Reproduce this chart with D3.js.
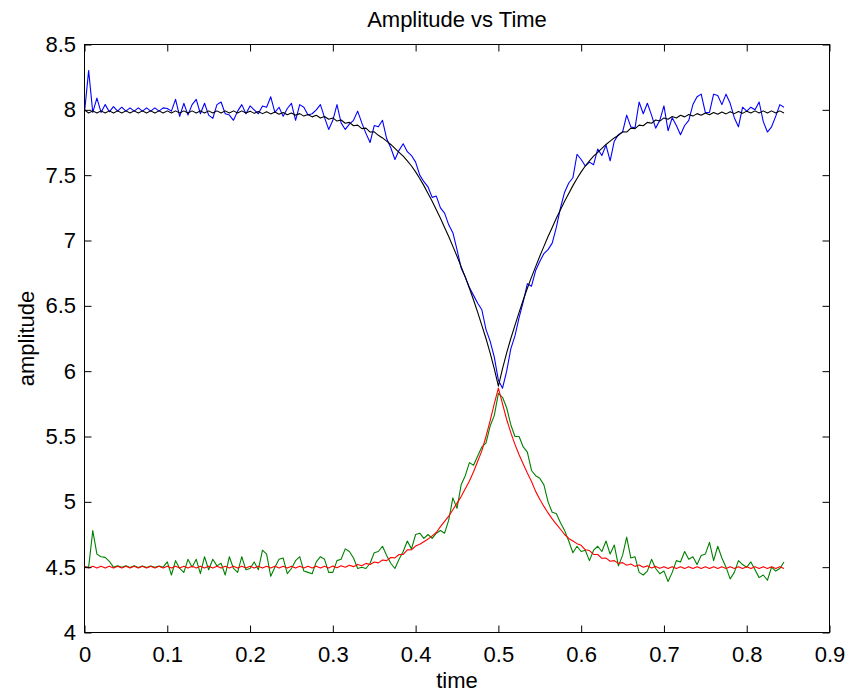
<!DOCTYPE html>
<html><head><meta charset="utf-8">
<script src="https://cdn.jsdelivr.net/npm/d3@7"></script>
<style>
body{margin:0;background:#fff}
svg{display:block}
text{font-family:"Liberation Sans",Arial,Helvetica,sans-serif;fill:#000}
</style>
</head><body>
<svg id="chart" width="851" height="694"></svg>
<script>
const chartTitle = "Amplitude vs Time";
const xLabel = "time";
const yLabel = "amplitude";
const xTicks = [0, 0.1, 0.2, 0.3, 0.4, 0.5, 0.6, 0.7, 0.8, 0.9];
const yTicks = [4, 4.5, 5, 5.5, 6, 6.5, 7, 7.5, 8, 8.5];
// sample times: uniform grid starting at 0 with step 0.005
const tStart = 0, tStep = 0.005;

const blueSeries = [
7.98,8.30,7.98,8.09,7.98,8.04,7.985,8.025,7.99,8.02,
7.99,8.015,7.99,8.015,7.99,8.015,7.99,8.015,7.99,8.015,
8.01,7.99,8.08,7.95,8.05,7.96,8.04,8.08,7.97,8.05,
7.96,7.935,8.04,8.06,7.97,7.96,7.92,7.99,8.04,7.97,
8.03,8.00,7.97,8.03,8.02,8.10,7.98,8.02,7.95,8.01,
8.05,7.92,8.04,8.02,7.96,7.97,8.00,8.04,7.94,7.85,
7.92,8.04,7.90,7.85,7.89,7.92,7.99,7.90,7.82,7.75,
7.88,7.87,7.92,7.78,7.71,7.62,7.69,7.74,7.68,7.65,
7.60,7.50,7.45,7.41,7.33,7.34,7.25,7.21,7.12,7.06,
6.93,6.79,6.72,6.64,6.58,6.52,6.47,6.32,6.23,6.11,
5.93,5.87,6.00,6.17,6.27,6.41,6.53,6.67,6.65,6.77,
6.84,6.90,6.93,6.98,7.10,7.25,7.37,7.44,7.48,7.66,
7.62,7.57,7.60,7.58,7.70,7.65,7.73,7.61,7.76,7.81,
7.83,7.96,7.87,7.86,8.06,7.97,8.05,7.96,7.86,7.92,
8.03,7.84,7.94,7.88,7.81,7.88,7.92,8.04,8.10,8.12,
7.98,7.98,8.12,8.11,8.04,8.12,8.05,7.94,7.87,8.02,
7.99,8.02,8.00,8.06,7.91,7.83,7.87,7.95,8.04,8.02
];

const greenSeries = [
4.50,4.50,4.78,4.60,4.58,4.575,4.545,4.50,4.51,4.50,
4.51,4.497,4.51,4.497,4.508,4.497,4.508,4.50,4.508,4.50,
4.54,4.44,4.55,4.49,4.46,4.56,4.50,4.56,4.45,4.58,
4.48,4.56,4.51,4.53,4.44,4.58,4.49,4.46,4.58,4.48,
4.49,4.54,4.48,4.63,4.60,4.43,4.50,4.56,4.57,4.45,
4.49,4.55,4.58,4.47,4.46,4.45,4.54,4.58,4.56,4.46,
4.46,4.55,4.56,4.64,4.62,4.57,4.49,4.50,4.49,4.53,
4.61,4.62,4.66,4.59,4.53,4.49,4.56,4.62,4.70,4.64,
4.75,4.76,4.72,4.75,4.72,4.76,4.78,4.76,4.86,5.03,
4.95,5.13,5.20,5.30,5.28,5.35,5.42,5.45,5.58,5.66,
5.83,5.80,5.72,5.59,5.50,5.50,5.42,5.38,5.24,5.20,
5.18,5.13,5.00,4.92,4.91,4.84,4.78,4.70,4.61,4.66,
4.62,4.63,4.55,4.63,4.66,4.62,4.70,4.60,4.67,4.51,
4.59,4.73,4.57,4.58,4.46,4.44,4.47,4.56,4.49,4.45,
4.47,4.39,4.46,4.55,4.54,4.62,4.56,4.58,4.52,4.59,
4.60,4.69,4.55,4.66,4.57,4.50,4.41,4.46,4.55,4.52,
4.50,4.54,4.48,4.42,4.44,4.40,4.50,4.47,4.49,4.54
];

const blackSeries = [
8.000,7.976,7.992,7.976,7.992,7.976,7.992,7.976,7.992,7.976,
7.992,7.976,7.992,7.976,7.992,7.976,7.992,7.976,7.992,7.976,
7.992,7.976,7.992,7.976,7.992,7.976,7.992,7.976,7.992,7.976,
7.992,7.976,7.992,7.976,7.992,7.976,7.992,7.976,7.992,7.976,
7.990,7.973,7.988,7.971,7.986,7.969,7.983,7.966,7.980,7.962,
7.976,7.958,7.971,7.952,7.965,7.946,7.958,7.938,7.949,7.928,
7.938,7.914,7.922,7.897,7.904,7.878,7.883,7.856,7.860,7.830,
7.831,7.805,7.785,7.760,7.735,7.705,7.675,7.645,7.610,7.570,
7.525,7.475,7.420,7.360,7.300,7.235,7.170,7.100,7.030,6.955,
6.880,6.800,6.720,6.635,6.545,6.450,6.350,6.250,6.140,6.020,
5.885,6.020,6.140,6.250,6.350,6.450,6.545,6.635,6.720,6.800,
6.880,6.955,7.030,7.100,7.170,7.235,7.300,7.360,7.420,7.475,
7.525,7.570,7.610,7.645,7.675,7.705,7.735,7.760,7.785,7.805,
7.831,7.830,7.860,7.856,7.883,7.878,7.904,7.897,7.922,7.914,
7.938,7.928,7.949,7.938,7.958,7.946,7.965,7.952,7.971,7.958,
7.976,7.962,7.980,7.966,7.983,7.969,7.986,7.971,7.988,7.973,
7.990,7.976,7.992,7.976,7.992,7.976,7.992,7.976,7.992,7.976
];

const redSeries = [
4.507,4.493,4.507,4.493,4.507,4.493,4.507,4.493,4.507,4.493,
4.507,4.493,4.507,4.493,4.507,4.493,4.507,4.493,4.507,4.493,
4.507,4.493,4.507,4.493,4.507,4.493,4.507,4.493,4.507,4.493,
4.507,4.493,4.507,4.493,4.507,4.493,4.507,4.493,4.507,4.493,
4.507,4.493,4.507,4.493,4.507,4.493,4.507,4.493,4.507,4.493,
4.507,4.493,4.507,4.493,4.507,4.493,4.507,4.493,4.507,4.493,
4.508,4.495,4.511,4.499,4.515,4.504,4.521,4.511,4.529,4.520,
4.540,4.533,4.555,4.550,4.574,4.571,4.597,4.598,4.632,4.633,
4.662,4.675,4.695,4.715,4.740,4.765,4.810,4.850,4.890,4.940,
4.990,5.040,5.100,5.160,5.230,5.310,5.390,5.500,5.620,5.750,
5.870,5.750,5.630,5.530,5.440,5.360,5.290,5.220,5.155,5.080,
5.020,4.965,4.915,4.870,4.830,4.790,4.750,4.720,4.700,4.680,
4.667,4.633,4.627,4.598,4.597,4.568,4.569,4.545,4.550,4.528,
4.535,4.515,4.524,4.506,4.516,4.499,4.510,4.494,4.506,4.491,
4.504,4.490,4.504,4.490,4.504,4.490,4.504,4.490,4.504,4.490,
4.504,4.490,4.504,4.490,4.504,4.490,4.504,4.490,4.504,4.490,
4.504,4.490,4.504,4.490,4.504,4.490,4.504,4.490,4.504,4.490
];

const seriesList = [
  {values: blueSeries,  color: "#0000ff"},
  {values: greenSeries, color: "#008000"},
  {values: blackSeries, color: "#000000"},
  {values: redSeries,   color: "#ff0000"}
];

const times = blueSeries.map((_, i) => tStart + i * tStep);

const W = 851, H = 694;
const plot = {left: 84.5, right: 829.5, top: 44.5, bottom: 632.5};
const FONT = 22;

const svg = d3.select("#chart");
svg.append("rect").attr("width", W).attr("height", H).attr("fill", "#fff");

const x = d3.scaleLinear().domain([0, 0.9]).range([plot.left, plot.right]);
const y = d3.scaleLinear().domain([4, 8.5]).range([plot.bottom, plot.top]);

const line = d3.line()
  .x((d, i) => x(times[i]))
  .y(d => y(d));

const gLines = svg.append("g");
seriesList.forEach(s => {
  gLines.append("path")
    .datum(s.values)
    .attr("fill", "none")
    .attr("stroke", s.color)
    .attr("stroke-width", 1.1)
    .attr("stroke-linejoin", "round")
    .attr("d", line);
});

function styleAxis(g) {
  g.select(".domain").remove();
  g.selectAll(".tick line").attr("stroke", "#000").attr("stroke-width", 1);
  g.selectAll(".tick text")
    .attr("font-size", FONT)
    .attr("font-family", '"Liberation Sans", Arial, Helvetica, sans-serif')
    .attr("fill", "#000");
  g.attr("font-size", null).attr("font-family", null);
}

const fmt = d => String(d);

svg.append("g")
  .attr("transform", `translate(0,${plot.bottom})`)
  .call(d3.axisBottom(x).tickValues(xTicks).tickSizeInner(-7).tickSizeOuter(0).tickPadding(13.5).tickFormat(fmt))
  .call(styleAxis);

svg.append("g")
  .attr("transform", `translate(0,${plot.top})`)
  .call(d3.axisTop(x).tickValues(xTicks).tickSizeInner(-7).tickSizeOuter(0).tickFormat(""))
  .call(styleAxis);

svg.append("g")
  .attr("transform", `translate(${plot.left},0)`)
  .call(d3.axisLeft(y).tickValues(yTicks).tickSizeInner(-7).tickSizeOuter(0).tickPadding(8.5).tickFormat(fmt))
  .call(styleAxis);

svg.append("g")
  .attr("transform", `translate(${plot.right},0)`)
  .call(d3.axisRight(y).tickValues(yTicks).tickSizeInner(-7).tickSizeOuter(0).tickFormat(""))
  .call(styleAxis);

svg.append("rect")
  .attr("x", plot.left).attr("y", plot.top)
  .attr("width", plot.right - plot.left).attr("height", plot.bottom - plot.top)
  .attr("fill", "none").attr("stroke", "#000").attr("stroke-width", 1);

svg.append("text")
  .attr("x", (plot.left + plot.right) / 2).attr("y", 27)
  .attr("text-anchor", "middle").attr("font-size", FONT)
  .text(chartTitle);

svg.append("text")
  .attr("x", (plot.left + plot.right) / 2).attr("y", 688)
  .attr("text-anchor", "middle").attr("font-size", FONT)
  .text(xLabel);

svg.append("text")
  .attr("transform", `translate(34,${(plot.top + plot.bottom) / 2}) rotate(-90)`)
  .attr("text-anchor", "middle").attr("font-size", FONT)
  .text(yLabel);
</script>
</body></html>
